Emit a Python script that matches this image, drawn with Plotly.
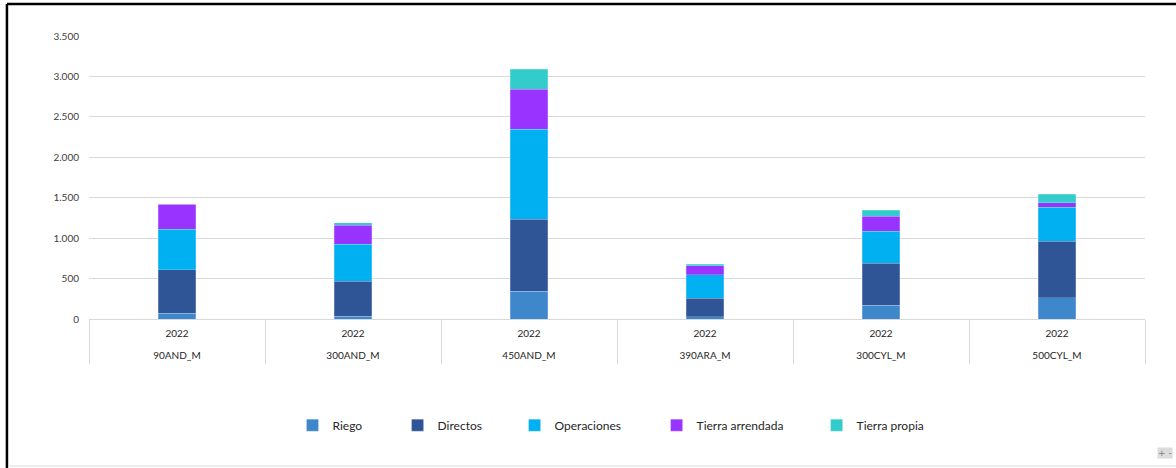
import plotly.graph_objects as go

# categories (outer level) and year (inner level)
fincas = ["90AND_M", "300AND_M", "450AND_M", "390ARA_M", "300CYL_M", "500CYL_M"]
anios = ["2022", "2022", "2022", "2022", "2022", "2022"]

# stacked cost components
riego = [74, 33, 346, 25, 173, 260]
directos = [535, 433, 886, 231, 519, 700]
operaciones = [503, 461, 1113, 292, 396, 421]
tierra_arrendada = [309, 235, 494, 111, 181, 57]
tierra_propia = [0, 30, 251, 17, 78, 107]

series = [
    ("Riego", riego, "#3E87CB"),
    ("Directos", directos, "#2F5597"),
    ("Operaciones", operaciones, "#00B0F0"),
    ("Tierra arrendada", tierra_arrendada, "#9933FF"),
    ("Tierra propia", tierra_propia, "#33CCCC"),
]
# left edge of each legend entry (paper x), one legend per entry like Excel spacing
leg_x = [0.1927, 0.2922, 0.4030, 0.5375, 0.6890]

FONT = "Lato, Open Sans, sans-serif"
GRIS = "#D9D9D9"

fig = go.Figure()
for i, (name, vals, col) in enumerate(series):
    lg = "legend" if i == 0 else "legend%d" % (i + 1)
    fig.add_trace(go.Bar(
        x=fincas, y=vals, name=name, legend=lg,
        marker=dict(color=col, line=dict(color="rgba(255,255,255,0.35)", width=0.6)),
    ))

# empty traces so the two label axes (year / finca) get drawn
pos = list(range(len(fincas)))
for ax in ["x2", "x3"]:
    fig.add_trace(go.Scatter(x=pos, y=[None] * len(pos), xaxis=ax, yaxis="y", mode="markers",
                             showlegend=False, hoverinfo="skip"))

layout_legends = {}
for i, lx in enumerate(leg_x):
    lg = "legend" if i == 0 else "legend%d" % (i + 1)
    layout_legends[lg] = dict(orientation="h", x=lx, xanchor="left", y=-0.375, yanchor="middle",
                              font=dict(family=FONT, size=12, color="#262626"),
                              bgcolor="rgba(0,0,0,0)")

fig.update_layout(
    width=1176, height=468,
    barmode="stack", bargap=0.788,
    separators=",.",
    paper_bgcolor="white", plot_bgcolor="white",
    margin=dict(l=89, r=31, t=36, b=149),
    font=dict(family=FONT, size=10, color="#404040"),
    showlegend=True,
    **layout_legends,
)
fig.update_yaxes(range=[0, 3500], dtick=500, tickformat=",d", gridcolor=GRIS,
                 gridwidth=1, zeroline=False, showline=False, ticks="", ticklabelstandoff=9)

fig.update_layout(
    # bars axis: only the boundary lines of the category boxes
    xaxis=dict(type="category", range=[-0.5, 5.5], showline=True, linecolor=GRIS, linewidth=1,
               ticks="outside", tickson="boundaries", ticklen=44, tickcolor=GRIS, tickwidth=1,
               showticklabels=False, showgrid=False),
    # inner level: year
    xaxis2=dict(overlaying="x", anchor="y", side="bottom", type="linear", range=[-0.5, 5.5],
                tickmode="array", tickvals=pos, ticktext=anios,
                ticks="", showgrid=False, showline=False, zeroline=False,
                ticklabelstandoff=7, tickfont=dict(family=FONT, size=10, color="#262626")),
    # outer level: finca
    xaxis3=dict(overlaying="x", anchor="y", side="bottom", type="linear", range=[-0.5, 5.5],
                tickmode="array", tickvals=pos, ticktext=fincas,
                ticks="", showgrid=False, showline=False, zeroline=False,
                ticklabelstandoff=29, tickfont=dict(family=FONT, size=10, color="#262626")),
)

# black frame on top and left as in the screenshot
fig.add_shape(type="line", xref="paper", yref="paper", x0=-0.0777, x1=1.05, y0=1.1131, y1=1.1131,
              line=dict(color="black", width=2.5))
fig.add_shape(type="line", xref="paper", yref="paper", x0=-0.0777, x1=-0.0777, y0=1.1131, y1=-0.53,
              line=dict(color="black", width=2.5))
fig.add_shape(type="line", xref="paper", yref="paper", x0=-0.0765, x1=1.05, y0=-0.5194, y1=-0.5194,
              line=dict(color="#E6E6E6", width=1.5))
fig.add_annotation(text="+ -", xref="paper", yref="paper", x=1.0265, y=-0.4958, showarrow=False,
                   font=dict(family="DejaVu Sans", size=9, color="#808080"), bgcolor="#DCDCDC",
                   borderpad=0)

fig.write_html("out.html", config={"displayModeBar": False},
               post_script="document.body.style.margin='0px';")
